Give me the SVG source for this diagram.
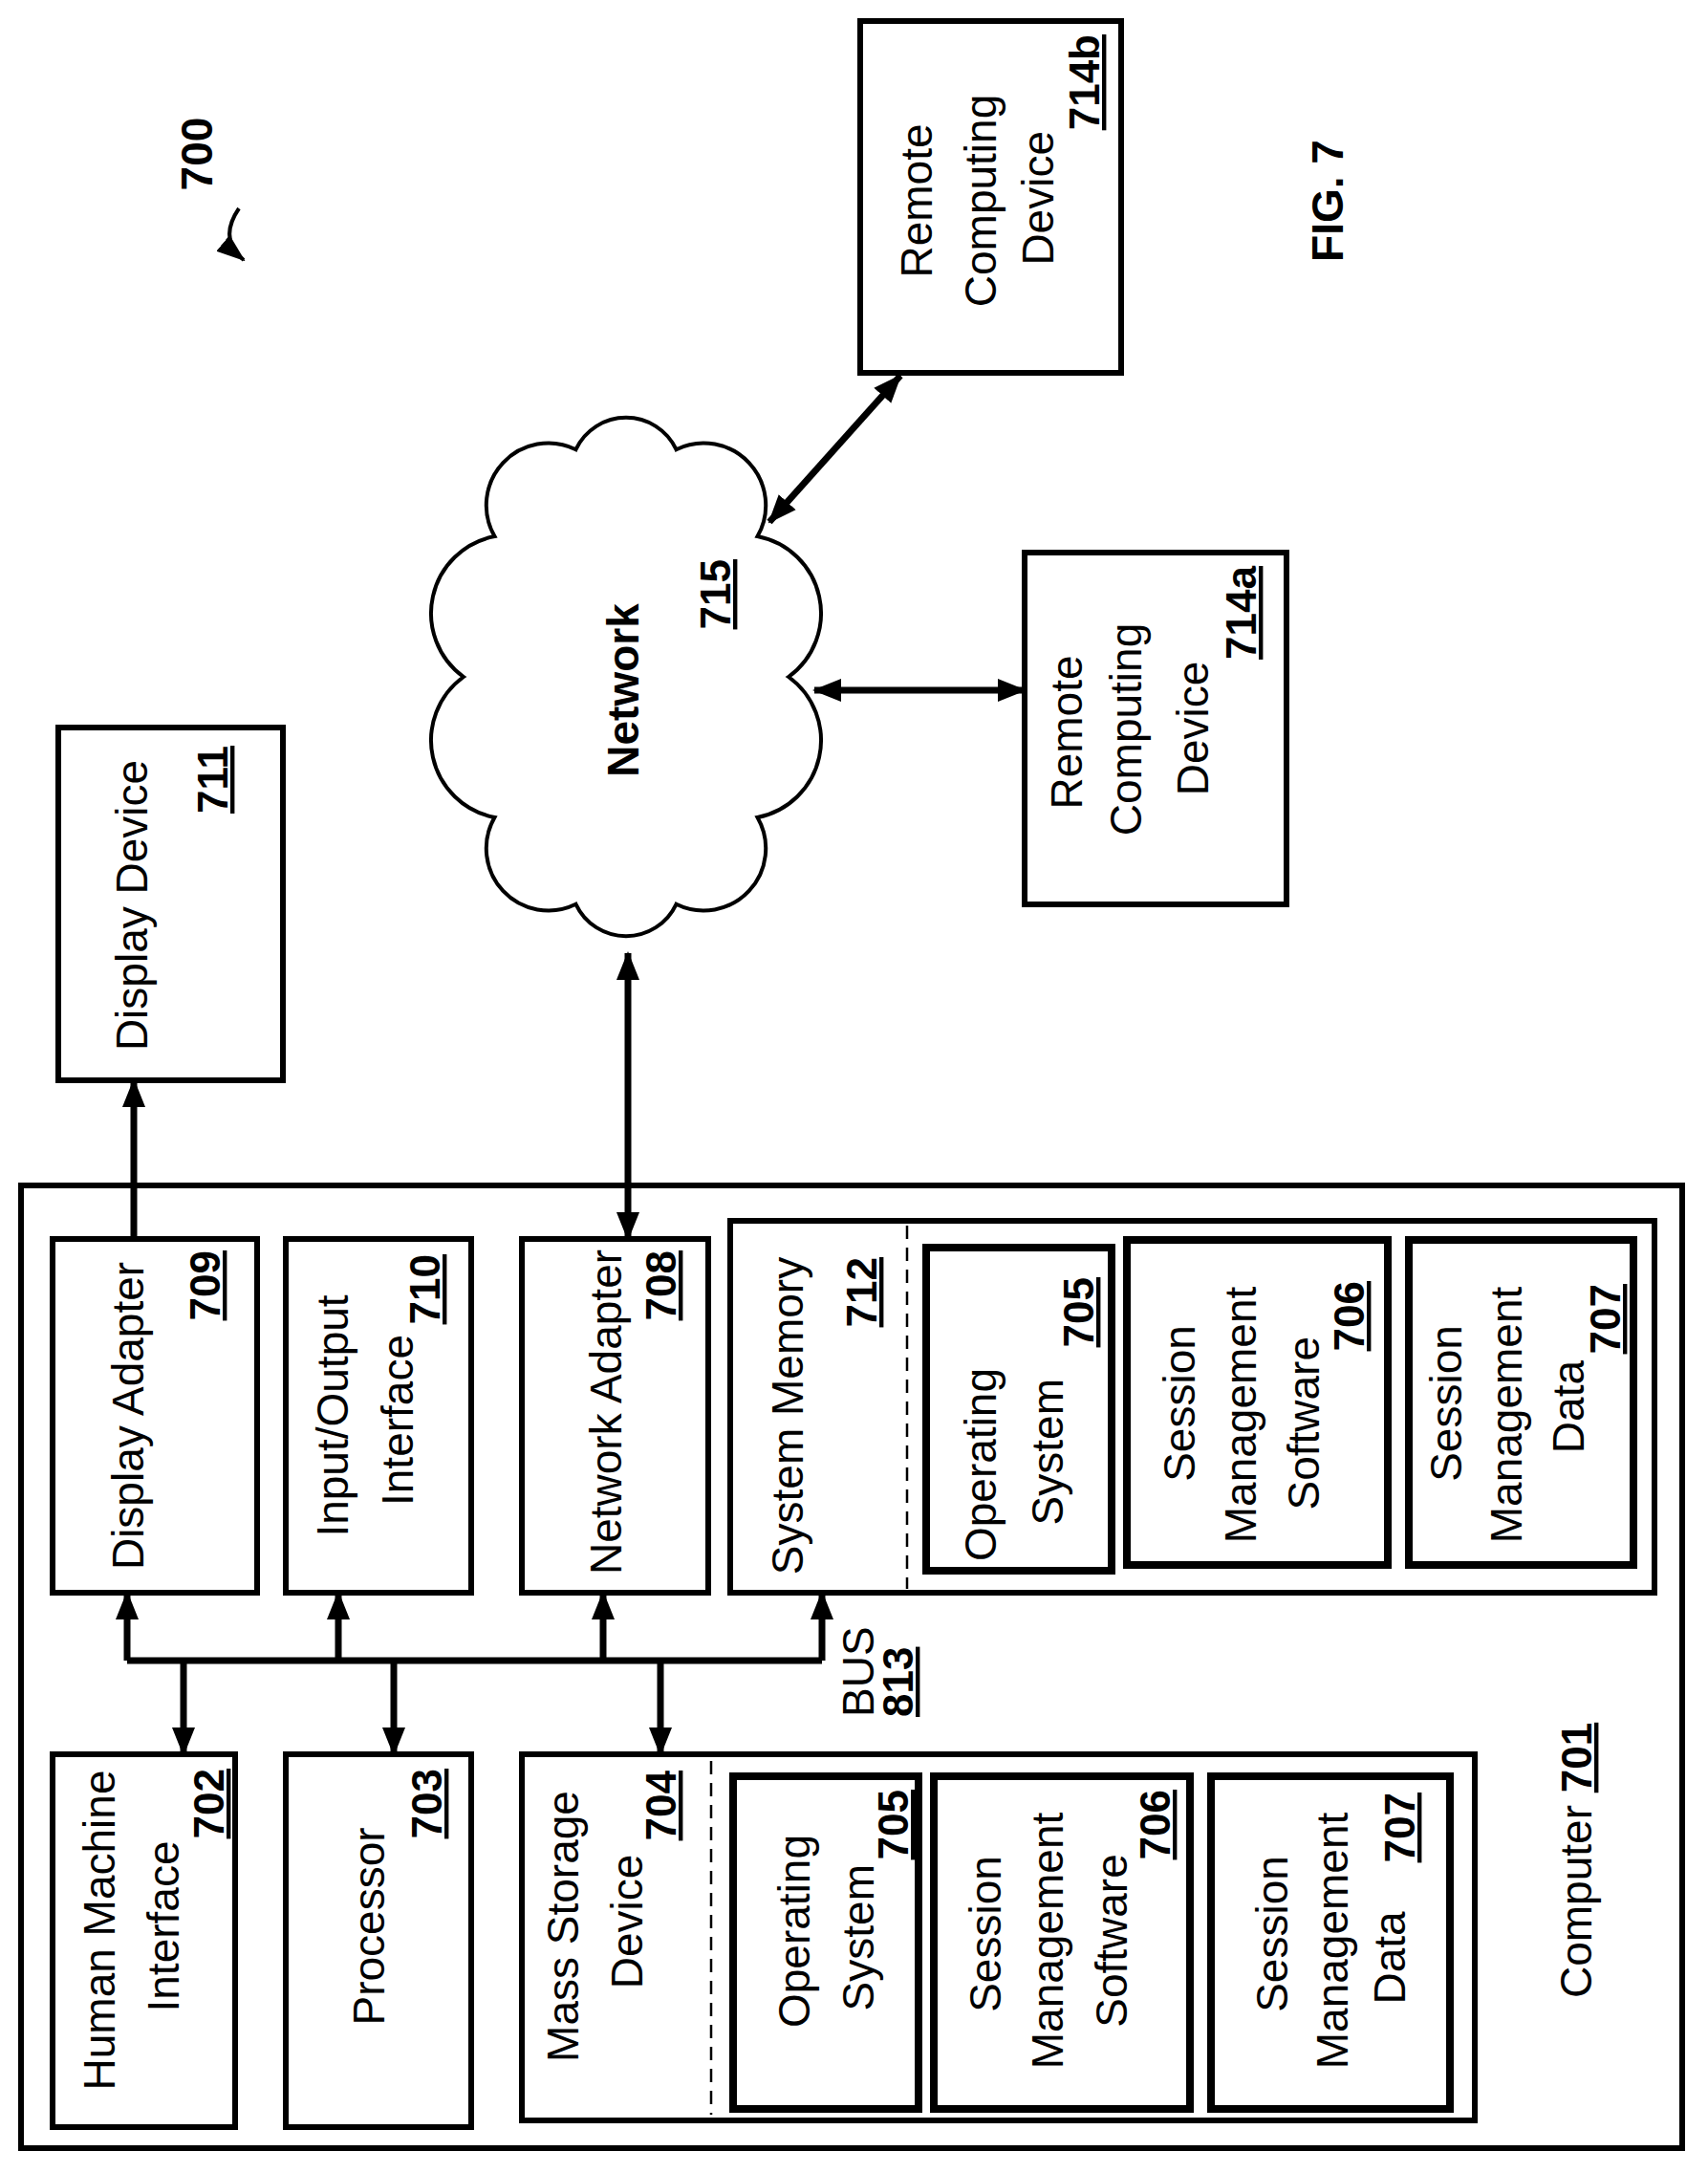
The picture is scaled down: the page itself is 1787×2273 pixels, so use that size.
<svg xmlns="http://www.w3.org/2000/svg" width="1787" height="2273" viewBox="0 0 1787 2273">
<style>
.b{fill:#fff;stroke:#000;stroke-width:6}
.bi{fill:#fff;stroke:#000;stroke-width:8}
.d{stroke:#000;stroke-width:2.5;stroke-dasharray:14 9}
.t{font-family:"Liberation Sans",Arial,sans-serif;font-size:46px;fill:#000}
.n{font-family:"Liberation Sans",Arial,sans-serif;font-size:44px;font-weight:bold;text-decoration:underline;fill:#000}
.m{text-anchor:middle}.e{text-anchor:end}
.c{stroke:#000;stroke-width:7;fill:none}
</style>
<defs>
<marker id="a" markerUnits="userSpaceOnUse" markerWidth="30" markerHeight="30" viewBox="0 0 30 30" refX="28" refY="15" orient="auto-start-reverse"><path d="M0,3 L30,15 L0,27 Z" fill="#000"/></marker>
<marker id="s" markerUnits="userSpaceOnUse" markerWidth="30" markerHeight="30" viewBox="0 0 30 30" refX="28" refY="15" orient="auto"><path d="M0,4 L30,15 L0,26 Z" fill="#000"/></marker>
</defs>
<g id="computer"><rect class="b" x="22" y="1240" width="1738" height="1007"/>
<text class="t" transform="translate(1665,2090) rotate(-90)">Computer <tspan class="n">701</tspan></text></g>
<g id="display-adapter"><rect class="b" x="55" y="1296" width="214" height="370"/>
<text class="t m" transform="translate(150,1481) rotate(-90)">Display Adapter</text>
<text class="n e" transform="translate(230,1308) rotate(-90)">709</text></g>
<g id="io"><rect class="b" x="299" y="1296" width="194" height="370"/>
<text class="t m" transform="translate(364,1481) rotate(-90)">Input/Output</text>
<text class="t e" transform="translate(432,1396) rotate(-90)">Interface</text>
<text class="n e" transform="translate(460,1312) rotate(-90)">710</text></g>
<g id="network-adapter"><rect class="b" x="546" y="1296" width="195" height="370"/>
<text class="t m" transform="translate(650,1477) rotate(-90)">Network Adapter</text>
<text class="n e" transform="translate(707,1308) rotate(-90)">708</text></g>
<g id="system-memory"><rect class="b" x="764" y="1277" width="967" height="389"/>
<line class="d" x1="949" y1="1282" x2="949" y2="1662"/>
<text class="t m" transform="translate(840,1481) rotate(-90)">System Memory</text>
<text class="n e" transform="translate(917,1315) rotate(-90)">712</text></g>
<g id="sm-os"><rect class="bi" x="969" y="1305" width="194" height="338"/>
<text class="t m" transform="translate(1042,1532) rotate(-90)">Operating</text>
<text class="t e" transform="translate(1112,1442) rotate(-90)">System</text>
<text class="n e" transform="translate(1144,1336) rotate(-90)">705</text></g>
<g id="sm-sms"><rect class="bi" x="1179" y="1297" width="273" height="340"/>
<text class="t m" transform="translate(1250,1468) rotate(-90)">Session</text>
<text class="t m" transform="translate(1314,1480) rotate(-90)">Management</text>
<text class="t e" transform="translate(1380,1398) rotate(-90)">Software</text>
<text class="n e" transform="translate(1427,1340) rotate(-90)">706</text></g>
<g id="sm-smd"><rect class="bi" x="1474" y="1297" width="235" height="340"/>
<text class="t m" transform="translate(1529,1468) rotate(-90)">Session</text>
<text class="t m" transform="translate(1592,1480) rotate(-90)">Management</text>
<text class="t e" transform="translate(1657,1423) rotate(-90)">Data</text>
<text class="n e" transform="translate(1695,1343) rotate(-90)">707</text></g>
<g id="hmi"><rect class="b" x="55" y="1835" width="191" height="390"/>
<text class="t m" transform="translate(120,2019) rotate(-90)">Human Machine</text>
<text class="t m" transform="translate(187,2015) rotate(-90)">Interface</text>
<text class="n e" transform="translate(234,1850) rotate(-90)">702</text></g>
<g id="processor"><rect class="b" x="299" y="1835" width="194" height="390"/>
<text class="t m" transform="translate(402,2015) rotate(-90)">Processor</text>
<text class="n e" transform="translate(462,1850) rotate(-90)">703</text></g>
<g id="mass-storage"><rect class="b" x="546" y="1835" width="997" height="383"/>
<line class="d" x1="744" y1="1842" x2="744" y2="2212"/>
<text class="t m" transform="translate(605,2015) rotate(-90)">Mass Storage</text>
<text class="t m" transform="translate(672,2010) rotate(-90)">Device</text>
<text class="n e" transform="translate(707,1852) rotate(-90)">704</text></g>
<g id="ms-os"><rect class="bi" x="767" y="1858" width="194" height="348"/>
<text class="t m" transform="translate(847,2020) rotate(-90)">Operating</text>
<text class="t e" transform="translate(914,1950) rotate(-90)">System</text>
<text class="n e" transform="translate(950,1872) rotate(-90)">705</text></g>
<g id="ms-sms"><rect class="bi" x="977" y="1858" width="268" height="348"/>
<text class="t m" transform="translate(1047,2023) rotate(-90)">Session</text>
<text class="t m" transform="translate(1112,2030) rotate(-90)">Management</text>
<text class="t m" transform="translate(1179,2030) rotate(-90)">Software</text>
<text class="n e" transform="translate(1224,1872) rotate(-90)">706</text></g>
<g id="ms-smd"><rect class="bi" x="1267" y="1858" width="250" height="348"/>
<text class="t m" transform="translate(1347,2023) rotate(-90)">Session</text>
<text class="t m" transform="translate(1410,2030) rotate(-90)">Management</text>
<text class="t m" transform="translate(1470,2048) rotate(-90)">Data</text>
<text class="n e" transform="translate(1480,1875) rotate(-90)">707</text></g>
<g id="bus-label"><text class="t" transform="translate(914,1796) rotate(-90)">BUS</text>
<text class="n" transform="translate(955,1796) rotate(-90)">813</text></g>
<g id="display-device"><rect class="b" x="61" y="761" width="235" height="369"/>
<text class="t m" transform="translate(154,947) rotate(-90)">Display Device</text>
<text class="n e" transform="translate(238,780) rotate(-90)">711</text></g>
<g id="network"><path d="M825,708 A82,82 0 0 1 792.5,855 A65,65 0 0 1 707.5,945.8 A58,58 0 0 1 602.5,945.8 A65,65 0 0 1 517.5,855 A82,82 0 0 1 485,708 A82,82 0 0 1 517.5,561 A65,65 0 0 1 602.5,470.2 A58,58 0 0 1 707.5,470.2 A65,65 0 0 1 792.5,561 A82,82 0 0 1 825,708 Z" fill="#fff" stroke="#000" stroke-width="4"/>
<text class="t m" font-weight="bold" font-size="40" transform="translate(668,722) rotate(-90)">Network</text>
<text class="n e" transform="translate(764,585) rotate(-90)">715</text></g>
<g id="rcd-a"><rect class="b" x="1072" y="578" width="274" height="368"/>
<text class="t m" transform="translate(1132,766) rotate(-90)">Remote</text>
<text class="t m" transform="translate(1194,763) rotate(-90)">Computing</text>
<text class="t m" transform="translate(1264,762) rotate(-90)">Device</text>
<text class="n e" transform="translate(1314,592) rotate(-90)">714a</text></g>
<g id="rcd-b"><rect class="b" x="900" y="22" width="273" height="368"/>
<text class="t m" transform="translate(975,210) rotate(-90)">Remote</text>
<text class="t m" transform="translate(1042,210) rotate(-90)">Computing</text>
<text class="t e" transform="translate(1102,137) rotate(-90)">Device</text>
<text class="n e" transform="translate(1150,36) rotate(-90)">714b</text></g>
<g id="labels">
<text class="t m" font-weight="bold" font-size="38" transform="translate(1405,210) rotate(-90)">FIG. 7</text>
<text class="t m" font-weight="bold" font-size="38" transform="translate(222,161) rotate(-90)">700</text>
<path d="M250,218 Q228,250 255,272" stroke="#000" stroke-width="4" fill="none" marker-end="url(#s)"/>
</g>
<g id="connectors">
<line class="c" x1="133" y1="1737" x2="860" y2="1737"/>
<line class="c" x1="133" y1="1737" x2="133" y2="1666" marker-end="url(#a)"/>
<line class="c" x1="354" y1="1737" x2="354" y2="1666" marker-end="url(#a)"/>
<line class="c" x1="631" y1="1737" x2="631" y2="1666" marker-end="url(#a)"/>
<line class="c" x1="860" y1="1737" x2="860" y2="1666" marker-end="url(#a)"/>
<line class="c" x1="192" y1="1737" x2="192" y2="1835" marker-end="url(#a)"/>
<line class="c" x1="412" y1="1737" x2="412" y2="1835" marker-end="url(#a)"/>
<line class="c" x1="691" y1="1737" x2="691" y2="1835" marker-end="url(#a)"/>
<line class="c" x1="140" y1="1296" x2="140" y2="1130" marker-end="url(#a)"/>
<line class="c" x1="657" y1="1296" x2="657" y2="997" marker-start="url(#a)" marker-end="url(#a)"/>
<line class="c" x1="852" y1="722" x2="1072" y2="722" marker-start="url(#a)" marker-end="url(#a)"/>
<line class="c" x1="805" y1="546" x2="942" y2="393" stroke-width="5" marker-start="url(#a)" marker-end="url(#a)"/>
</g>
</svg>
